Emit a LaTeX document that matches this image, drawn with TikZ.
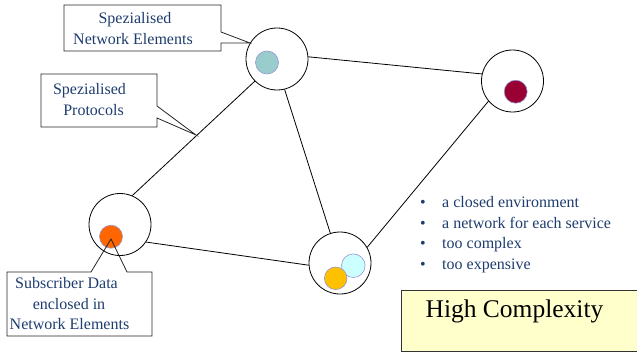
\documentclass[tikz,border=0pt]{standalone}
\usepackage{fontspec}
\setmainfont{Liberation Serif}
\definecolor{txtblue}{RGB}{30,60,110}
\definecolor{dotedge}{RGB}{150,150,210}
\definecolor{tealdot}{RGB}{153,204,204}
\definecolor{reddot}{RGB}{153,0,51}
\definecolor{orangedot}{RGB}{255,102,0}
\definecolor{yellowdot}{RGB}{255,192,0}
\definecolor{cyandot}{RGB}{204,255,255}
\definecolor{boxfill}{RGB}{255,255,204}
\begin{document}
\begin{tikzpicture}[x=1pt,y=-1pt,
  netnode/.style={circle,draw=black,line width=0.8pt,minimum size=62pt,inner sep=0pt},
  dot/.style={circle,draw=dotedge,line width=0.6pt,minimum size=23pt,inner sep=0pt},
  link/.style={draw=black,line width=0.8pt},
  callout/.style={draw=black!85,line width=0.8pt},
  lbl/.style={text=txtblue,font=\fontsize{16}{19}\selectfont,inner sep=0pt,yshift=-2.5pt},
  blt/.style={lbl,anchor=mid west}]
\useasboundingbox (0,0) rectangle (637,353);
% network elements
\node[netnode] (A) at (277,59) {};
\node[netnode] (B) at (512.5,81) {};
\node[netnode] (C) at (120,224.5) {};
\node[netnode] (D) at (340,263) {};
% links
\draw[link] (A.4) -- (B.167);
\draw[link] (A.225) -- (C.67);
\draw[link] (A.-76) -- (D.108);
\draw[link] (B.220) -- (D.30);
\draw[link] (C.-34) -- (D.184);
% dots
\node[dot,fill=tealdot] (da) at (267,62.5) {};
\node[dot,fill=reddot] (db) at (515.7,91.7) {};
\node[dot,fill=orangedot] (dc) at (111,236.7) {};
\node[dot,fill=cyandot,minimum size=23.6pt] (dd2) at (353.3,265.7) {};
\node[dot,fill=yellowdot,minimum size=22.6pt] (dd1) at (335.7,278.3) {};
% callout 1
\draw[callout] (64,5) -- (221,5) -- (221,32) -- (250,43) -- (221,43) -- (221,51) -- (64,51) -- cycle;
\node[lbl,anchor=mid] (c1a) at (135,19) {Spezialised};
\node[lbl,anchor=mid] (c1b) at (133,40) {Network Elements};
% callout 2
\draw[callout] (41,74) -- (157,74) -- (157,106) -- (196,135) -- (157,118) -- (157,127) -- (41,127) -- cycle;
\node[lbl,anchor=mid] (c2a) at (89.5,90) {Spezialised};
\node[lbl,anchor=mid] (c2b) at (93.5,111) {Protocols};
% callout 3
\draw[callout] (7,272) -- (91,272) -- (111,239) -- (127,272) -- (152,272) -- (152,336) -- (7,336) -- cycle;
\node[lbl,anchor=mid] (c3a) at (66.5,284) {Subscriber Data};
\node[lbl,anchor=mid] (c3b) at (69,305) {enclosed in};
\node[lbl,anchor=mid] (c3c) at (69.5,325) {Network Elements};
% bullets
\foreach \y/\t [count=\i] in {203/a closed environment,223.5/a network for each service,244/too complex,265/too expensive}{
  \node[lbl,anchor=mid] (bd\i) at (423,\y) {\textbullet};
  \node[blt] (bt\i) at (442,\y) {\t};
}
% high complexity box
\draw[fill=boxfill,draw=black!80,line width=0.8pt] (401,290) rectangle (645,351);
\node[inner sep=0pt,anchor=base,font=\fontsize{25.5}{30}\selectfont] (hc) at (514.5,317.7) {High Complexity};
\end{tikzpicture}
\end{document}
